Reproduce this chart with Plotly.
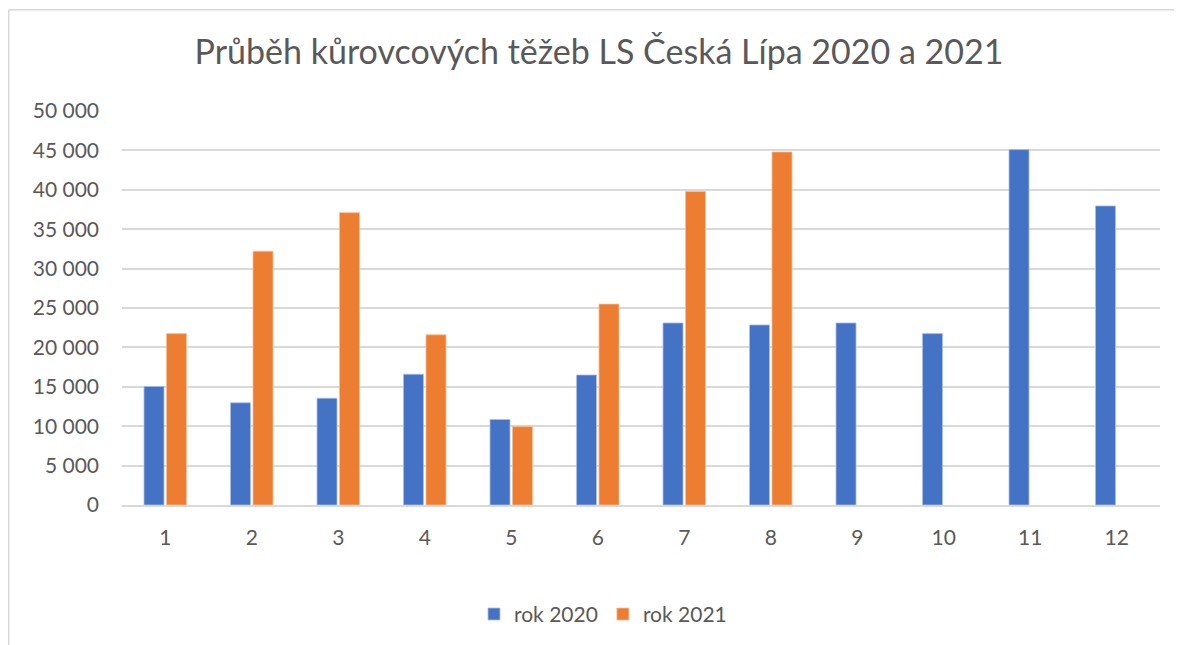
import plotly.graph_objects as go

months = ["1", "2", "3", "4", "5", "6", "7", "8", "9", "10", "11", "12"]
rok_2020 = [15050, 12970, 13550, 16600, 10850, 16500, 23100, 22850, 23100, 21750, 45100, 37950]
rok_2021 = [21750, 32200, 37100, 21600, 9950, 25500, 39800, 44800, None, None, None, None]
y_ticks = [0, 5000, 10000, 15000, 20000, 25000, 30000, 35000, 40000, 45000, 50000]
y_labels = ["0", "5 000", "10 000", "15 000", "20 000", "25 000", "30 000", "35 000", "40 000", "45 000", "50 000"]

FONT = "Lato, 'Open Sans', sans-serif"
TXT = "#595959"

# page has an 8px body margin; figure coordinates are offset accordingly
L, R, T, B = 114, 30, 103, 147.5
PH = 645 - T - B
PW = 1182 - L - R

fig = go.Figure()
fig.add_trace(go.Bar(x=months, y=rok_2020, name="rok 2020",
                     marker=dict(color="#4472C4", line=dict(color="#A9BFE8", width=0.8))))
fig.add_trace(go.Bar(x=months, y=rok_2021, name="rok 2021",
                     marker=dict(color="#ED7D31", line=dict(color="#F6BE98", width=0.8))))

fig.update_layout(
    width=1182, height=645,
    margin=dict(l=L, r=R, t=T, b=B, autoexpand=False),
    paper_bgcolor="white", plot_bgcolor="white",
    font=dict(family=FONT, color=TXT, size=21),
    title=dict(text="Průběh kůrovcových těžeb LS Česká Lípa 2020 a 2021",
               font=dict(family=FONT, size=34, color=TXT),
               x=0.5, xanchor="center", y=1 - 44 / 645, yanchor="middle"),
    barmode="group", bargap=0.48, bargroupgap=0.11,
    legend=dict(orientation="h", x=0.5 - 38 / PW, xanchor="center", y=(PH - (607 - T)) / PH,
                yanchor="middle", font=dict(size=21, color=TXT), itemwidth=30, traceorder="normal"),
    xaxis=dict(type="category", showgrid=False, showline=True, linecolor="#D9D9D9", linewidth=1.5,
               ticks="", ticklabelstandoff=13, tickfont=dict(size=21, color=TXT)),
    yaxis=dict(range=[0, 50000], tickvals=y_ticks, ticktext=y_labels,
               showgrid=True, gridcolor="#D9D9D9", gridwidth=1.5, zeroline=False,
               showline=False, ticks="", ticklabelstandoff=22, tickfont=dict(size=21, color=TXT)),
    shapes=[
        dict(type="line", xref="paper", yref="paper", x0=(0.75 - L) / PW, x1=1.1,
             y0=1 + (T - 1.5) / PH, y1=1 + (T - 1.5) / PH,
             line=dict(color="#D9D9D9", width=1.5)),
        dict(type="line", xref="paper", yref="paper", x0=(0.75 - L) / PW, x1=(0.75 - L) / PW,
             y0=1 + (T - 1.5) / PH, y1=-0.5,
             line=dict(color="#D9D9D9", width=1.5)),
    ],
)

fig.write_html("out.html")
